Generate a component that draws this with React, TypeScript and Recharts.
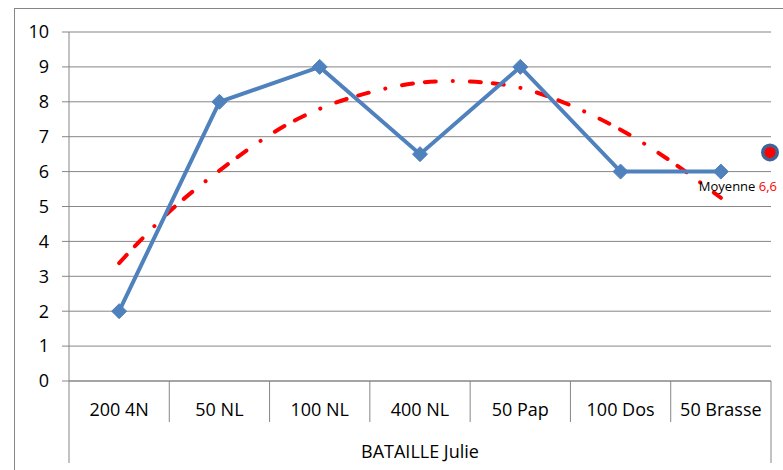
import React from 'react';
import { LineChart, Line, XAxis, YAxis, CartesianGrid, ReferenceDot } from 'recharts';

const categories = ['200 4N', '50 NL', '100 NL', '400 NL', '50 Pap', '100 Dos', '50 Brasse'];
const scores = [2, 8, 9, 6.5, 9, 6, 6];
// trend curve, at category centres and halfway between them
const trendPositions = [0, 0.5, 1, 1.5, 2, 2.5, 3, 3.5, 4, 4.5, 5, 5.5, 6];
const trendValues = [3.38, 4.85, 6.03, 7.05, 7.8, 8.27, 8.55, 8.58, 8.4, 7.9, 7.2, 6.3, 5.25];
const yTicks = [0, 1, 2, 3, 4, 5, 6, 7, 8, 9, 10];
const groupLabel = 'BATAILLE Julie';
const meanValue = 6.55;
const meanText = '6,6';

const GREY = '#868686';
const BLUE = '#4F81BD';
const FONT = '"Open Sans", sans-serif';

const scoreData = scores.map((value, i) => ({ pos: i, value }));
const trendData = trendPositions.map((pos, i) => ({ pos, value: trendValues[i] }));

const xTicks: number[] = [];
categories.forEach((_, i) => {
  xTicks.push(i - 0.5, i);
});
xTicks.push(categories.length - 0.5);

const CategoryTick = (props: any) => {
  const { x, y, payload } = props;
  const v = payload.value;
  if (Number.isInteger(v)) {
    return (
      <text x={x} y={y + 35} textAnchor="middle" fontSize={18} fontFamily={FONT} fill="#000">
        {categories[v]}
      </text>
    );
  }
  const outer = v < 0 || v > categories.length - 1;
  return <line x1={x} y1={y} x2={x} y2={y + (outer ? 82 : 41)} stroke={GREY} strokeWidth={1} />;
};

const Diamond = (props: any) => {
  const { cx, cy } = props;
  if (cx == null || cy == null) return null;
  const s = 7.5;
  return (
    <polygon
      points={`${cx},${cy - s} ${cx + s},${cy} ${cx},${cy + s} ${cx - s},${cy}`}
      fill={BLUE}
      stroke={BLUE}
    />
  );
};

const MeanMark = (props: any) => {
  const { cx, cy } = props;
  return (
    <g>
      <circle cx={cx - 1} cy={cy} r={9} fill="#3F6597" />
      <circle cx={cx - 1} cy={cy} r={5.5} fill="#FF0000" />
      <text x={cx + 6} y={cy + 39} textAnchor="end" fontSize={13} fontFamily={FONT} fill="#000">
        Moyenne <tspan fill="#FF0000">{meanText}</tspan>
      </text>
    </g>
  );
};

export default function App() {
  return (
    <div
      style={{
        position: 'fixed',
        left: 0,
        top: 0,
        width: 783,
        height: 470,
        overflow: 'hidden',
        background: '#fff',
        fontFamily: FONT,
      }}
    >
      {/* chart frame: only its left and top edges fall inside the picture */}
      <div
        style={{
          position: 'absolute',
          left: 14,
          top: 8,
          width: 769,
          height: 462,
          borderLeft: `1px solid ${GREY}`,
          borderTop: `1px solid ${GREY}`,
          boxSizing: 'border-box',
        }}
      />
      <div style={{ position: 'absolute', left: 0, top: 0 }}>
        <LineChart
          width={783}
          height={470}
          margin={{ top: 32, right: 12, bottom: 0, left: 9 }}
          style={{ overflow: 'visible' }}
        >
          <CartesianGrid vertical={false} stroke={GREY} strokeWidth={1} />
          <XAxis
            type="number"
            dataKey="pos"
            domain={[-0.5, categories.length - 0.5]}
            ticks={xTicks}
            interval={0}
            tick={<CategoryTick />}
            tickLine={false}
            tickSize={0}
            tickMargin={0}
            height={89}
            axisLine={{ stroke: GREY }}
            label={{ value: groupLabel, position: 'insideBottom', offset: 12, fontSize: 18, fill: '#000', fontFamily: FONT }}
          />
          <YAxis
            type="number"
            domain={[0, 10]}
            ticks={yTicks}
            interval={0}
            width={60}
            tickSize={7}
            tickMargin={13}
            axisLine={{ stroke: GREY }}
            tickLine={{ stroke: GREY }}
            tick={{ fontSize: 18, fill: '#000', fontFamily: FONT }}
          />
          <Line
            data={trendData}
            dataKey="value"
            type="natural"
            stroke="#FF0000"
            strokeWidth={4}
            strokeDasharray="11 12 11 17 0.1 17"
            strokeLinecap="round"
            dot={false}
            activeDot={false}
            isAnimationActive={false}
          />
          <Line
            data={scoreData}
            dataKey="value"
            type="linear"
            stroke={BLUE}
            strokeWidth={4}
            dot={<Diamond />}
            activeDot={false}
            isAnimationActive={false}
          />
          <ReferenceDot
            x={categories.length - 0.5}
            y={meanValue}
            r={9}
            ifOverflow="visible"
            shape={<MeanMark />}
          />
        </LineChart>
      </div>
    </div>
  );
}
